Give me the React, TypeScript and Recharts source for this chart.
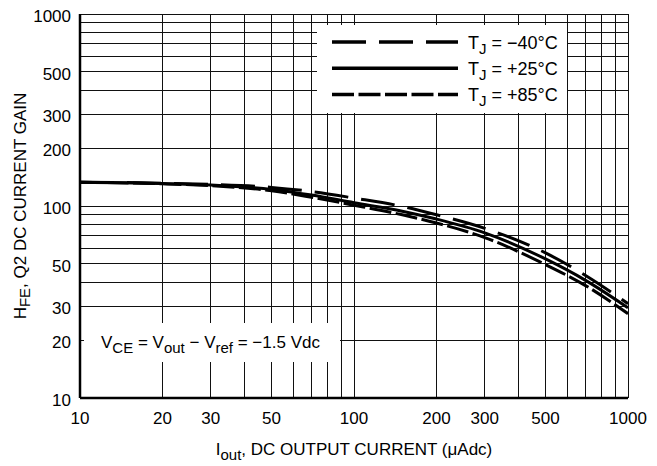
import React from 'react';
import { LineChart, Line, XAxis, YAxis, CartesianGrid, Legend } from 'recharts';

// output current (uAdc) and HFE
const currents = [10, 20, 30, 50, 70, 100, 150, 200, 300, 500, 700, 1000];
const gainMinus40 = [133, 131.5, 129.5, 125, 119, 110, 99.5, 90, 76.5, 57, 43.5, 31];
const gainPlus25 = [133, 131, 128.5, 122, 114, 104, 94, 85.5, 72.5, 53, 41, 29.5];
const gainPlus85 = [133, 130.5, 127.5, 120, 111, 101, 90, 81.5, 68.5, 49.5, 38.5, 27.5];

const xTicks = [10, 20, 30, 50, 100, 200, 300, 500, 1000];
const yTicks = [10, 20, 30, 50, 100, 200, 300, 500, 1000];
const gridValues = [10, 20, 30, 40, 50, 60, 70, 80, 90, 100, 200, 300, 400, 500, 600, 700, 800, 900, 1000];

const temps = ['−40', '+25', '+85'];
const dashes = ['34 13', undefined, '22 4.5'];
const keys = ['tm40', 't25', 't85'];

const data = currents.map((c, i) => ({
  current: c,
  tm40: gainMinus40[i],
  t25: gainPlus25[i],
  t85: gainPlus85[i],
}));

const FONT = 'Arial, "Liberation Sans", Helvetica, sans-serif';

const LegendBox = () => (
  <svg width={250} height={88} style={{ display: 'block' }}>
    {temps.map((t, i) => {
      const y = 17 + i * 26.3;
      return (
        <g key={t}>
          <line x1={15} x2={141} y1={y} y2={y} stroke="#000" strokeWidth={3.5} strokeDasharray={dashes[i]} />
          <text x={151} y={y + 6.5} fontSize={18} fontFamily={FONT} fill="#000">
            T<tspan fontSize={15} dy={5}>J</tspan>
            <tspan dy={-5}>{` = ${t}°C`}</tspan>
          </text>
        </g>
      );
    })}
  </svg>
);

const XTitle = (props: any) => {
  const vb = props.viewBox || { x: 80, y: 398, width: 548 };
  return (
    <text x={vb.x + vb.width / 2} y={vb.y + 57} textAnchor="middle" fontSize={17} fontFamily={FONT} fill="#000">
      I<tspan fontSize={15} dy={5}>out</tspan>
      <tspan dy={-5}>, DC OUTPUT CURRENT (μAdc)</tspan>
    </text>
  );
};

const YTitle = (props: any) => {
  const vb = props.viewBox || { x: 20, y: 14, height: 384 };
  const x = 26;
  const y = vb.y + vb.height / 2;
  return (
    <text x={x} y={y} transform={`rotate(-90, ${x}, ${y})`} textAnchor="middle" fontSize={17} fontFamily={FONT} fill="#000">
      H<tspan fontSize={15} dy={4}>FE</tspan>
      <tspan dy={-4}>, Q2 DC CURRENT GAIN</tspan>
    </text>
  );
};

export default function App() {
  return (
    <div style={{ position: 'absolute', left: 0, top: 0, width: 657, height: 466, background: '#fff', fontFamily: FONT }}>
      <LineChart width={657} height={466} data={data} margin={{ top: 14, right: 29, bottom: 38, left: 20 }}>
        <CartesianGrid
          stroke="#111"
          strokeWidth={1}
          shapeRendering="crispEdges"
          verticalValues={gridValues}
          horizontalValues={gridValues}
        />
        <XAxis
          dataKey="current"
          type="number"
          scale="log"
          domain={[10, 1000]}
          allowDataOverflow
          ticks={xTicks}
          height={30}
          tickLine={false}
          tickSize={0}
          tickMargin={14}
          axisLine={{ stroke: '#000', strokeWidth: 2.5 }}
          tick={{ fontSize: 17, fill: '#000', fontFamily: FONT }}
          interval={0}
          label={XTitle}
        />
        <YAxis
          type="number"
          scale="log"
          domain={[10, 1000]}
          allowDataOverflow
          ticks={yTicks}
          width={60}
          tickLine={false}
          tickSize={0}
          tickMargin={9}
          axisLine={{ stroke: '#000', strokeWidth: 2.5 }}
          tick={{ fontSize: 17, fill: '#000', fontFamily: FONT, dy: 2 }}
          interval={0}
          label={YTitle}
        />
        {keys.map((k, i) => (
          <Line
            key={k}
            dataKey={k}
            type="monotone"
            stroke="#000"
            strokeWidth={3}
            strokeDasharray={dashes[i]}
            dot={false}
            activeDot={false}
            isAnimationActive={false}
          />
        ))}
        <Legend
          layout="horizontal"
          verticalAlign="middle"
          align="center"
          content={LegendBox}
          wrapperStyle={{ left: 317, top: 25, width: 250, height: 88, background: '#fff' }}
        />
      </LineChart>
      <div style={{ position: 'absolute', left: 84, top: 323, width: 256, height: 39, background: '#fff' }}>
        <svg width={256} height={39} style={{ display: 'block' }}>
          <text x={17} y={25} fontSize={17} fontFamily={FONT} fill="#000">
            V<tspan fontSize={15} dy={5}>CE</tspan>
            <tspan dy={-5}> = V</tspan>
            <tspan fontSize={15} dy={5}>out</tspan>
            <tspan dy={-5}> − V</tspan>
            <tspan fontSize={15} dy={5}>ref</tspan>
            <tspan dy={-5}> = −1.5 Vdc</tspan>
          </text>
        </svg>
      </div>
    </div>
  );
}
